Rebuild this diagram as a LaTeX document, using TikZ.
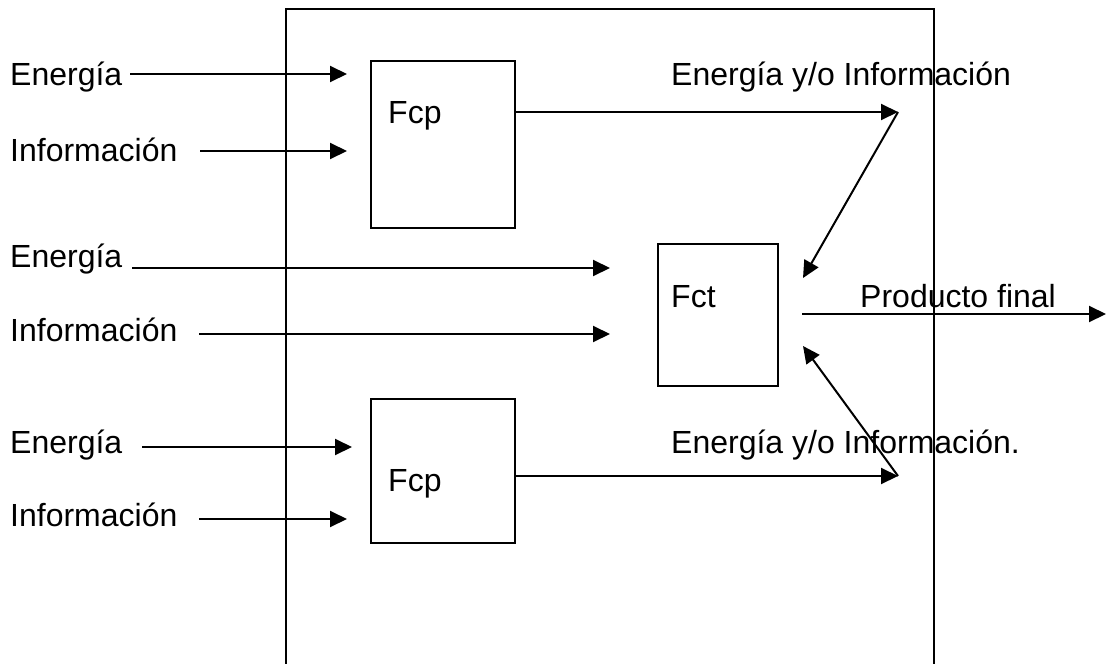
\documentclass[tikz,border=0pt]{standalone}
\usepackage{fontspec}
\setmainfont{Liberation Sans}
\usetikzlibrary{arrows.meta,positioning}

\begin{document}
\begin{tikzpicture}[x=1pt, y=-1pt,
	box/.style={draw, line width=2pt, inner sep=0pt},
	lbl/.style={font=\fontsize{32}{38}\selectfont, inner sep=0pt, anchor=base west},
	arr/.style={-{Triangle[length=17pt,width=16pt]}, line width=2pt}
]
	\useasboundingbox (0,0) rectangle (1106,664);

	% System frame, open at the bottom
	\coordinate (sysbl) at (286,664);
	\coordinate (systl) at (286,9);
	\coordinate (systr) at (934,9);
	\coordinate (sysbr) at (934,664);
	\draw[line width=2pt] (sysbl) -- (systl) -- (systr) -- (sysbr);

	% Partial functions and total function
	\node[box, minimum width=144pt, minimum height=167pt] (fcp1) at (443,144.5) {};
	\node[box, minimum width=144pt, minimum height=144pt] (fcp2) at (443,471) {};
	\node[box, minimum width=120pt, minimum height=142pt] (fct) at (718,315) {};
	\node[lbl] (fcp1txt) at (388,123) {Fcp};
	\node[lbl] (fcp2txt) at (388,491) {Fcp};
	\node[lbl] (fcttxt) at (671,307) {Fct};

	% Inputs
	\node[lbl] (en1) at (10,85) {Energía};
	\node[lbl] (in1) at (10,161) {Información};
	\node[lbl] (en2) at (10,267) {Energía};
	\node[lbl] (in2) at (10,341) {Información};
	\node[lbl] (en3) at (10,453) {Energía};
	\node[lbl] (in3) at (10,526) {Información};

	\coordinate (en1a) at (130,74);  \coordinate (en1b) at (347,74);
	\coordinate (in1a) at (200,151); \coordinate (in1b) at (347,151);
	\coordinate (en2a) at (132,268); \coordinate (en2b) at (610,268);
	\coordinate (in2a) at (199,334); \coordinate (in2b) at (610,334);
	\coordinate (en3a) at (142,447); \coordinate (en3b) at (352,447);
	\coordinate (in3a) at (199,519); \coordinate (in3b) at (347,519);

	\draw[arr] (en1a) -- (en1b);
	\draw[arr] (in1a) -- (in1b);
	\draw[arr] (en2a) -- (en2b);
	\draw[arr] (in2a) -- (in2b);
	\draw[arr] (en3a) -- (en3b);
	\draw[arr] (in3a) -- (in3b);

	% Flows between the functions
	\node[lbl] (flow1) at (671,85) {Energía y/o Información};
	\node[lbl] (flow2) at (671,453) {Energía y/o Información.};

	\coordinate (j1) at (898,112);
	\coordinate (j2) at (898,476);
	\coordinate (k1) at (803,278);
	\coordinate (k2) at (803,346);

	\draw[arr] (fcp1.east |- j1) -- (j1);
	\draw[arr] (j1) -- (k1);
	\draw[arr] (fcp2.east |- j2) -- (j2);
	\draw[arr] (j2) -- (k2);

	% Output
	\node[lbl] (prod) at (860,307) {Producto final};
	\coordinate (pfa) at (802,314);
	\coordinate (pfb) at (1106,314);
	\draw[arr] (pfa) -- (pfb);
\end{tikzpicture}
\end{document}
